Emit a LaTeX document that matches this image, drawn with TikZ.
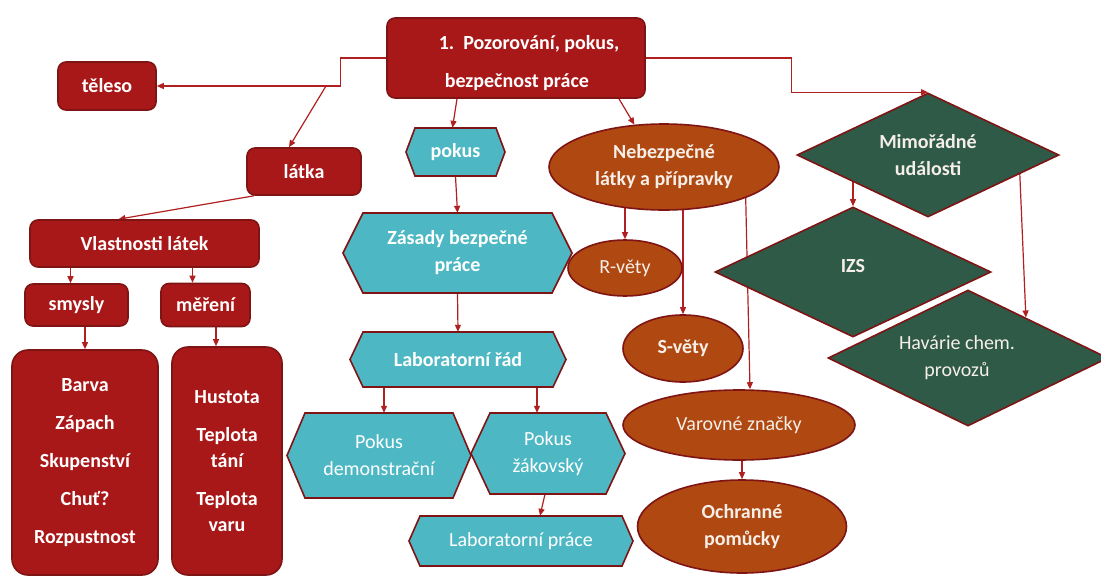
\documentclass[tikz,border=0pt]{standalone}
\usepackage{fontspec}
\setmainfont{Carlito}
\usetikzlibrary{shapes.geometric,arrows.meta,backgrounds}
\definecolor{cred}{HTML}{A91818}
\definecolor{cborder}{HTML}{7E1414}
\definecolor{cteal}{HTML}{4DB8C4}
\definecolor{cbrown}{HTML}{B04812}
\definecolor{cgreen}{HTML}{2F5A48}
\definecolor{cedge}{HTML}{B02020}
\definecolor{ctext}{HTML}{F5EFE8}
\newcommand\hexnode[8]{%
  \filldraw[hexfill] ({#2-#4/2},#3) -- ({#2-#4/2+#6},{#3-#5/2}) -- ({#2+#4/2-#6},{#3-#5/2}) -- ({#2+#4/2},#3) -- ({#2+#4/2-#6},{#3+#5/2}) -- ({#2-#4/2+#6},{#3+#5/2}) -- cycle;
  \node[hextxt,#8,minimum width=#4pt,minimum height=#5pt] (#1) at (#2,#3) {#7};}
\begin{document}
\begin{tikzpicture}[x=1pt,y=-1pt,
 base/.style={draw=cborder,line width=1.6pt,text=white,inner sep=0pt,align=center,font=\fontsize{20}{27}\selectfont\bfseries},
 rbox/.style={base,fill=cred,rounded corners=8pt},
 bigbox/.style={base,fill=cred,rounded corners=16pt,font=\fontsize{20}{26}\selectfont\bfseries},
 hexfill/.style={draw=cborder,line width=1.6pt,fill=cteal},
 hextxt/.style={text=white,inner sep=0pt,align=center,font=\fontsize{20}{27}\selectfont\bfseries},
 regular/.style={font=\fontsize{20}{27}\selectfont},
 ell/.style={base,ellipse,fill=cbrown,text=ctext},
 dia/.style={base,diamond,aspect=2,fill=cgreen,text=ctext},
 arr/.style={draw=cedge,line width=1.2pt,-{Triangle[length=7pt,width=6pt]}},
]
\useasboundingbox (0,0) rectangle (1101,576);
\clip (0,0) rectangle (1101,576);

% red boxes
\node[rbox,align=left,minimum width=258pt,minimum height=80pt] (root) at (516,58) {\rule{0pt}{25pt}\hspace*{26pt}1.\ \ Pozorování, pokus,\\[11pt]\hspace*{32pt}bezpečnost práce};
\node[rbox,minimum width=98pt,minimum height=48pt] (tel) at (107,86) {těleso};
\node[rbox,minimum width=114pt,minimum height=47pt] (latka) at (304,171.5) {látka};
\node[rbox,minimum width=229pt,minimum height=47pt] (vlast) at (144.5,243.5) {Vlastnosti látek};
\node[rbox,minimum width=103pt,minimum height=42pt] (smysly) at (76.5,305) {smysly};
\node[rbox,minimum width=89pt,minimum height=43pt] (mereni) at (205.5,305) {měření};
\node[bigbox,minimum width=146pt,minimum height=225pt] (box1) at (85,462.5) {Barva\\[12pt]Zápach\\[12pt]Skupenství\\[12pt]Chuť?\\[12pt]Rozpustnost};
\node[bigbox,minimum width=110pt,minimum height=228pt] (box2) at (227,461) {Hustota\\[12pt]Teplota\\tání\\[12pt]Teplota\\varu};

% teal hexagons
\hexnode{pokus}{455.5}{152}{99}{48}{9}{pokus}{}
\hexnode{zasady}{457.5}{253}{229}{80}{20}{Zásady bezpečné\\práce}{}
\hexnode{lrad}{458}{359.5}{216}{55}{13}{Laboratorní řád}{}
\hexnode{pdemo}{379}{455.5}{184}{85}{18}{Pokus\\demonstrační}{regular}
\hexnode{pzak}{548}{453.5}{154}{81}{19}{Pokus\\žákovský}{regular}
\hexnode{lprace}{521}{541}{224}{50}{11}{Laboratorní práce}{regular}

% brown ellipses
\node[ell,minimum width=230pt,minimum height=86pt] (neb) at (664,167) {Nebezpečné\\látky a přípravky};
\node[ell,regular,minimum width=114pt,minimum height=56pt] (rvety) at (625,268) {R-věty};
\node[ell,minimum width=120pt,minimum height=67pt] (svety) at (683,348.5) {S-věty};
\node[ell,regular,minimum width=232pt,minimum height=70pt] (varovne) at (739,425) {Varovné značky};
\node[ell,minimum width=209pt,minimum height=93pt] (ochr) at (742,526.5) {Ochranné\\pomůcky};

% green diamonds
\node[dia,minimum width=262pt,minimum height=124pt] (mimo) at (928,155) {Mimořádné\\události};
\node[dia,minimum width=276pt,minimum height=130pt] (izs) at (853,272) {IZS\rule[-12pt]{0pt}{0pt}};
\node[dia,regular,minimum width=280pt,minimum height=136pt] (hav) at (968,358) {Havárie chem.\hspace*{22pt}\\provozů\hspace*{22pt}};

% connectors
\begin{scope}[on background layer]
\draw[arr] (root.west) -- ++(-46,0) |- (tel.east);
\coordinate (j1) at (326,86);
\draw[arr] (j1) -- ([xshift=-15pt]latka.north);
\draw[arr] ([xshift=-50pt]latka.south) -- ([xshift=-26pt]vlast.north);
\draw[arr] ([xshift=-6pt]smysly.north |- vlast.south) -- ([xshift=-6pt]smysly.north);
\draw[arr] ([xshift=-13pt]mereni.north |- vlast.south) -- ([xshift=-13pt]mereni.north);
\draw[arr] (box1.north |- smysly.south) -- (box1.north);
\draw[arr] ([xshift=-11pt]box2.north |- mereni.south) -- ([xshift=-11pt]box2.north);

\draw[arr] ([xshift=-59pt]root.south) -- ([xshift=-3pt]pokus.north);
\draw[arr] (pokus.south) -- (zasady.north);
\draw[arr] (zasady.south) -- (lrad.north);
\draw[arr] ([xshift=5pt]pdemo.north |- lrad.south) -- ([xshift=5pt]pdemo.north);
\draw[arr] ([xshift=-11pt]pzak.north |- lrad.south) -- ([xshift=-11pt]pzak.north);
\draw[arr] ([xshift=-3pt]pzak.south) -- ([xshift=19pt]lprace.north);

\draw[arr] ([xshift=103pt]root.south) -- (neb.125);
\draw[arr] (rvety.north |- neb.center) -- (rvety.north);
\draw[arr] (svety.north |- neb.center) -- (svety.north);
\draw[arr] ([xshift=81pt]neb.center) -- ([xshift=11pt]varovne.north);
\draw[arr] (ochr.north |- varovne.center) -- (ochr.north);

\draw[arr] (root.east) -- ++(146,0) |- (mimo.north);
\draw[arr] (izs.north |- mimo.center) -- (izs.north);
\draw[arr] ([xshift=91pt]mimo.center) -- (hav.35);
\end{scope}
\end{tikzpicture}
\end{document}
